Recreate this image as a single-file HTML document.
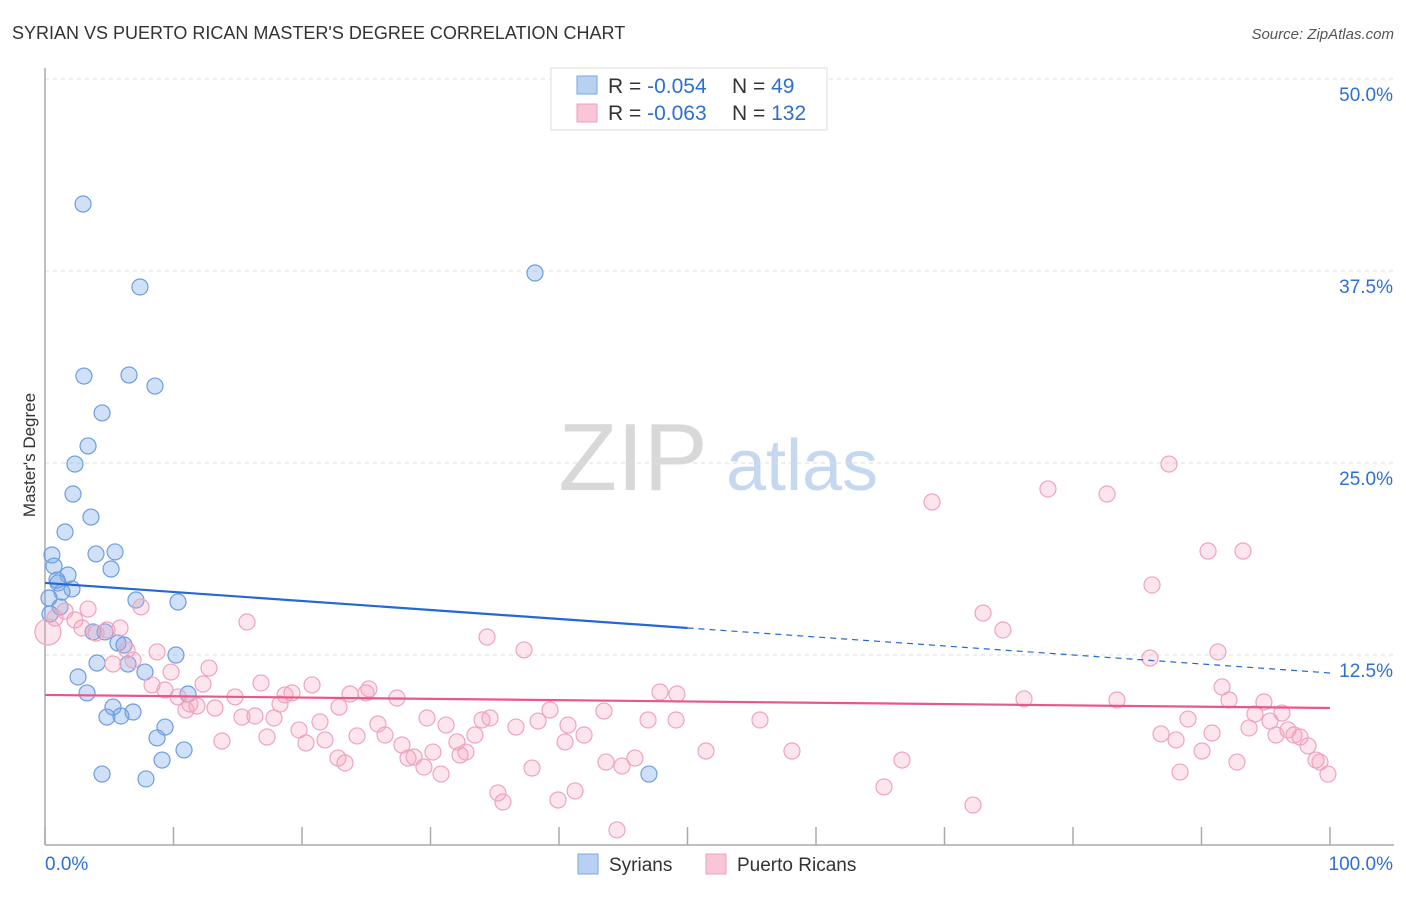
<!DOCTYPE html>
<html><head><meta charset="utf-8"><style>
body{margin:0;background:#fff;font-family:"Liberation Sans",sans-serif;}
svg text{font-family:"Liberation Sans",sans-serif;}
</style></head><body>
<svg id="chart" width="1406" height="892" viewBox="0 0 1406 892">
<text x="12" y="39" font-size="18" fill="#333">SYRIAN VS PUERTO RICAN MASTER'S DEGREE CORRELATION CHART</text>
<text x="1394" y="39" font-size="15" fill="#555" font-style="italic" text-anchor="end">Source: ZipAtlas.com</text>
<g>
<text x="633" y="490" font-size="96" fill="#d8d8d8" font-family="Liberation Serif,serif" text-anchor="middle">ZIP</text>
<text x="802" y="490" font-size="72" fill="#c5d8f0" text-anchor="middle">atlas</text>
</g>
<g id="grid"></g>
<g id="axes"></g>
<g id="pts"></g>
<g id="trends"></g>
<text x="35" y="455" font-size="17" fill="#333" text-anchor="middle" transform="rotate(-90 35 455)">Master's Degree</text>
<g>
<rect x="551" y="68" width="276" height="62" fill="#fff" stroke="#ddd"/>
<rect x="577" y="76" width="20" height="18" fill="#b8d0f2" stroke="#7aa6e0"/>
<rect x="577" y="104" width="20" height="18" fill="#f8c6d6" stroke="#eda0bb"/>
<text x="608" y="93" font-size="21" fill="#333">R = <tspan fill="#2e6fd1">-0.054</tspan></text>
<text x="732" y="93" font-size="21" fill="#333">N = <tspan fill="#2e6fd1"> 49</tspan></text>
<text x="608" y="120" font-size="21" fill="#333">R = <tspan fill="#2e6fd1">-0.063</tspan></text>
<text x="732" y="120" font-size="21" fill="#333">N = <tspan fill="#2e6fd1">132</tspan></text>
</g>
<g>
<rect x="578" y="854" width="20" height="20" fill="#b8d0f2" stroke="#7aa6e0"/>
<text x="609" y="871" font-size="19" fill="#333">Syrians</text>
<rect x="706" y="854" width="20" height="20" fill="#f8c6d6" stroke="#eda0bb"/>
<text x="737" y="871" font-size="19" fill="#333">Puerto Ricans</text>
</g>
</svg>
<script>
const yTicks=[12.5,25,37.5,50];
const yTickLabels=["12.5%","25.0%","37.5%","50.0%"];
const xTicks=[0,10,20,30,40,50,60,70,80,90,100];
const xTickLabels=["0.0%","100.0%"];
const syrX=[2.96,7.39,38.13,3.03,6.54,8.56,4.44,3.35,2.33,2.18,3.58,1.56,0.54,3.97,5.45,0.70,5.14,1.79,1.01,2.10,1.32,0.31,1.17,7.08,10.35,3.74,4.67,5.68,6.15,10.19,4.05,6.46,7.78,2.57,3.27,11.13,5.29,4.82,5.91,6.85,9.34,8.72,9.11,10.82,4.44,7.86,47.0,0.39,0.93];
const syrY=[41.86,36.46,37.37,30.66,30.73,30.01,28.26,26.11,24.93,22.98,21.48,20.51,19.01,19.08,19.21,18.29,18.10,17.71,17.19,16.80,16.60,16.21,15.63,16.08,15.95,14.00,14.00,13.28,13.15,12.50,11.98,11.91,11.39,11.07,10.03,9.96,9.11,8.46,8.53,8.79,7.81,7.10,5.66,6.32,4.75,4.43,4.75,15.17,17.38];
const prX=[0.23,0.78,1.56,2.33,3.35,2.88,3.97,4.82,5.84,7.47,5.29,6.38,6.85,8.72,9.81,8.33,9.34,10.35,10.97,11.28,11.83,12.30,12.76,13.23,13.77,14.79,15.33,15.72,16.34,16.81,17.28,17.82,18.68,18.29,19.22,19.77,20.31,20.78,21.40,21.79,22.80,23.35,22.88,23.74,24.28,24.98,25.21,25.91,26.46,27.39,27.78,28.25,28.72,29.49,29.73,30.19,30.82,31.21,32.06,32.30,32.76,33.46,34.01,34.40,34.63,35.25,35.64,36.65,37.28,37.90,38.37,39.30,39.92,40.47,40.70,41.25,41.95,43.50,43.66,44.51,44.90,45.91,46.93,47.86,49.11,49.18,51.44,55.64,58.13,65.29,66.69,69.03,72.22,73.00,74.55,76.19,78.05,82.65,83.42,85.99,86.15,86.85,87.47,88.02,88.33,88.95,90.04,90.51,90.82,91.28,91.60,92.14,92.76,93.23,93.70,94.16,94.86,95.33,95.80,96.26,96.73,97.20,97.67,98.29,98.91,99.22,99.84];
const prY=[14.0,14.91,15.36,14.78,15.49,14.26,13.93,14.13,14.26,15.63,11.91,12.83,12.17,12.70,11.39,10.55,10.22,9.77,8.92,9.31,9.18,10.61,11.65,9.05,6.90,9.77,8.46,14.65,8.53,10.68,7.16,8.40,9.90,9.31,10.03,7.62,6.77,10.55,8.14,6.97,5.79,5.47,9.11,9.96,7.23,10.03,10.29,8.01,7.29,9.70,6.64,5.79,5.86,5.21,8.40,6.18,4.75,7.94,6.84,5.99,6.18,7.29,8.27,13.67,8.40,3.52,2.93,7.81,12.83,5.14,8.20,8.92,3.06,6.84,7.94,3.65,7.29,8.85,5.53,1.11,5.27,5.79,8.27,10.09,8.27,9.96,6.25,8.27,6.25,3.91,5.66,22.46,2.73,15.23,14.13,9.64,23.31,22.98,9.57,12.30,17.06,7.36,24.93,6.97,4.88,8.33,6.25,19.27,7.42,12.70,10.42,9.57,5.53,19.27,7.75,8.66,9.44,8.20,7.29,8.72,7.62,7.29,7.16,6.58,5.66,5.53,4.75];
const syrTrend=[17.19,-0.0586];
const prTrend=[9.90,-0.0085];
const syrSolidEnd=50;

const NS="http://www.w3.org/2000/svg";
const X=v=>45+v*12.85;
const Y=v=>847-v*15.36;
function mk(tag,attrs,parent){const e=document.createElementNS(NS,tag);for(const k in attrs)e.setAttribute(k,attrs[k]);document.getElementById(parent).appendChild(e);return e;}
yTicks.forEach((t,i)=>{
 const l=mk('line',{x1:45,x2:1394,y1:Y(t),y2:Y(t),stroke:'#ddd','stroke-dasharray':'4,4'},'grid');
 
 
 const tx=mk('text',{x:1393,y:Y(t)+22,'font-size':19,fill:'#2e6fd1','text-anchor':'end'},'grid');
 tx.textContent=yTickLabels[i];
 
 
});
const ax=mk('line',{x1:45,x2:1394,y1:845,y2:845,stroke:'#aaa','stroke-width':1.5},'axes');


const ay=mk('line',{x1:45,x2:45,y1:68,y2:845,stroke:'#aaa','stroke-width':1.5},'axes');


xTicks.forEach(t=>{
 const l=mk('line',{x1:X(t),x2:X(t),y1:827,y2:845,stroke:'#aaa','stroke-width':1.5},'axes');
 
 
});
const xl0=mk('text',{x:45,y:870,'font-size':19,fill:'#2e6fd1'},'axes');xl0.textContent=xTickLabels[0];


const xl1=mk('text',{x:1393,y:870,'font-size':19,fill:'#2e6fd1','text-anchor':'end'},'axes');xl1.textContent=xTickLabels[1];


syrX.forEach((v,i)=>{
 const c=mk('circle',{cx:X(v),cy:Y(syrY[i]),r:8,fill:'rgba(120,165,230,0.35)',stroke:'#6d9de0','stroke-width':1.2},'pts');
 
 
});
prX.forEach((v,i)=>{
 const c=mk('circle',{cx:X(v),cy:Y(prY[i]),r:i==0?13:8,fill:'rgba(244,160,190,0.28)',stroke:'#efa3bd','stroke-width':1.2},'pts');
 
 
});
const f=(t,x)=>t[0]+t[1]*x;
const b1=mk('line',{x1:X(0),y1:Y(f(syrTrend,0)),x2:X(syrSolidEnd),y2:Y(f(syrTrend,syrSolidEnd)),stroke:'#2468d4','stroke-width':2.2},'trends');


const b2=mk('line',{x1:X(syrSolidEnd),y1:Y(f(syrTrend,syrSolidEnd)),x2:X(100),y2:Y(f(syrTrend,100)),stroke:'#2468d4','stroke-width':1.2,'stroke-dasharray':'6,5'},'trends');


const p1=mk('line',{x1:X(0),y1:Y(f(prTrend,0)),x2:X(100),y2:Y(f(prTrend,100)),stroke:'#e8578a','stroke-width':2.2},'trends');


</script>
</body></html>
